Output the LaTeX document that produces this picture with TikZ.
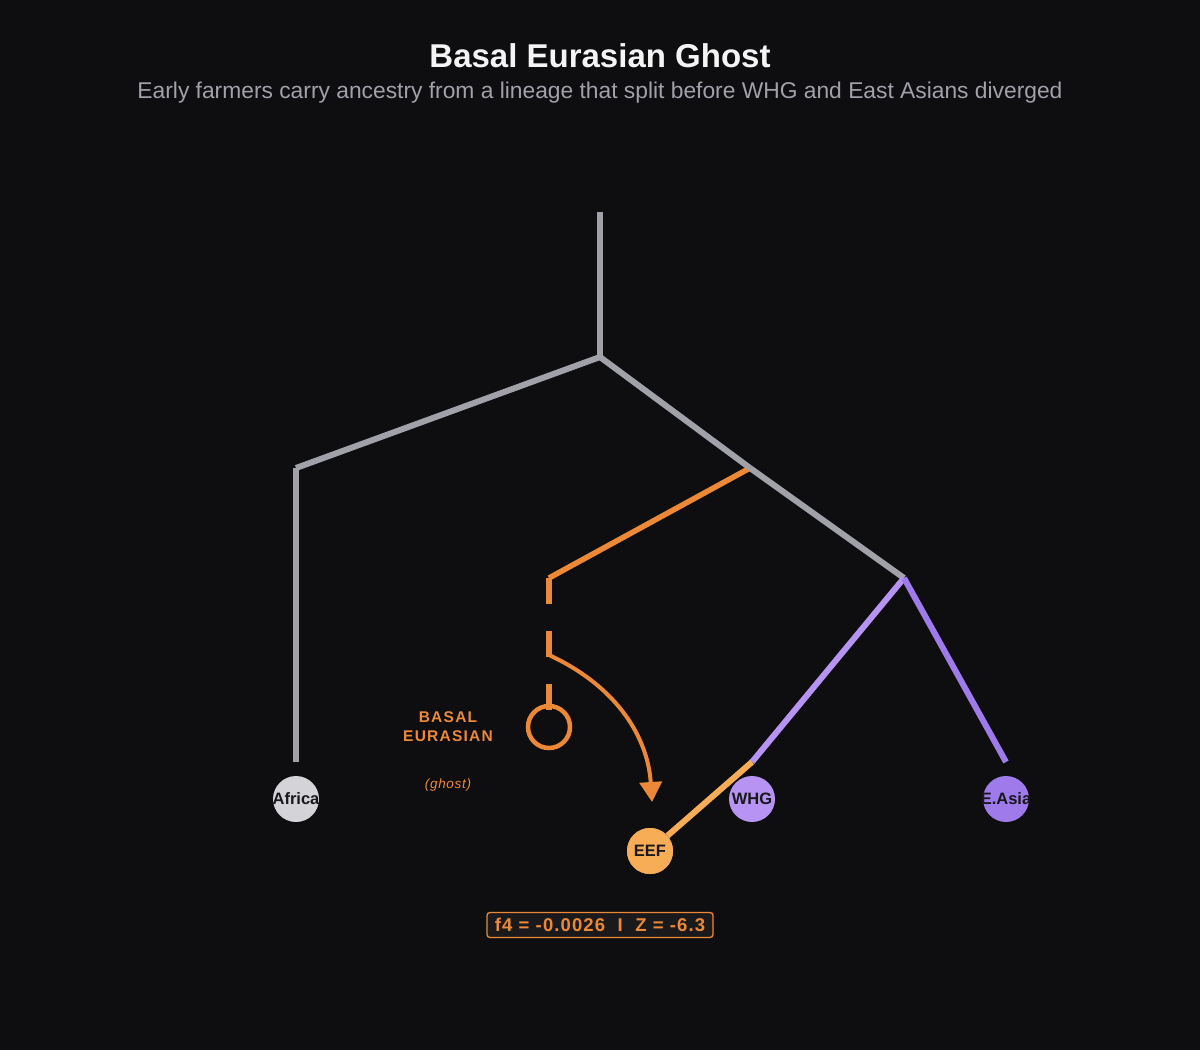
\documentclass[tikz,border=0pt]{standalone}
\usepackage{fontspec}
\setmainfont{Liberation Sans}
\newfontfamily\spacedfont[LetterSpace=8]{Liberation Sans}
\newfontfamily\ghostfont[LetterSpace=5]{Liberation Sans}
\newfontfamily\boxfont[LetterSpace=6]{Liberation Sans}
\usetikzlibrary{arrows.meta}
\definecolor{bg}{HTML}{0E0E10}
\definecolor{treegray}{HTML}{A1A1AA}
\definecolor{afrfill}{HTML}{D4D4D8}
\definecolor{whgfill}{HTML}{B794F4}
\definecolor{easfill}{HTML}{9F7AEA}
\definecolor{eeffill}{HTML}{F6AD55}
\definecolor{ghostor}{HTML}{ED8936}
\definecolor{titlecol}{HTML}{F4F4F5}
\definecolor{nodetext}{HTML}{18181B}
\definecolor{boxfill}{HTML}{1A1A1D}
\newcommand{\poplabel}[1]{\makebox[0pt][c]{#1}}
\tikzset{
  branch/.style={line width=6pt, line cap=butt},
  ghostline/.style={line width=5.5pt, ghostor},
  pop/.style={circle, minimum size=46pt, inner sep=0pt, text=nodetext, font=\fontsize{16.5}{19}\selectfont\bfseries},
}
\begin{document}
\begin{tikzpicture}[x=1pt,y=-1pt]
\fill[bg] (0,0) rectangle (1200,1050);
\useasboundingbox (0,0) rectangle (1200,1050);

% titles
\node[text=titlecol, font=\fontsize{33}{38}\selectfont\bfseries] (title) at (600,56) {Basal Eurasian Ghost};
\node[text=treegray, font=\fontsize{22.8}{26}\selectfont] (subtitle) at (600,93) {Early farmers carry ancestry from a lineage that split before WHG and East Asians diverged};

% junction coordinates
\coordinate (top) at (600,212);
\coordinate (root) at (600,357);
\coordinate (afrcorner) at (296,468);
\coordinate (afrend) at (296,762);
\coordinate (n1) at (750,468);
\coordinate (n2) at (904,578);
\coordinate (gcorner) at (549,578);
\coordinate (gend) at (549,712);
\coordinate (arrstart) at (549,655);
\coordinate (arrend) at (652,802);
\coordinate (whgtop) at (752,762);
\coordinate (eastop) at (1006,762);

% ghost lineage (under the tree)
\draw[ghostline] (n1) -- (gcorner);
\draw[ghostline, dash pattern=on 26pt off 27pt] (gcorner) -- (gend);

% tree
\draw[branch, treegray] (top) -- (root);
\draw[branch, treegray] (afrcorner) -- (afrend);
\draw[branch, treegray] (root) -- (afrcorner);
\draw[branch, treegray] (root) -- (n1);
\draw[branch, treegray] (n1) -- (n2);
\draw[branch, whgfill] (n2) -- (whgtop);
\draw[branch, easfill] (n2) -- (eastop);

\node[circle, draw=ghostor, line width=4.5pt, minimum size=42pt, inner sep=0pt] (ghostcirc) at (549,727) {};
\draw[line width=4pt, ghostor, -{Triangle[length=20pt,width=22pt]}] (arrstart) .. controls (620,688) and (648,740) .. (arrend);

\node[text=ghostor, font=\spacedfont\fontsize{15.5}{19}\selectfont\bfseries, align=center] (ghostlbl) at (448,727) {BASAL\\EURASIAN};
\node[text=ghostor, font=\ghostfont\fontsize{13.5}{16}\selectfont\itshape] (ghostsub) at (448,785) {(ghost)};

% populations
\node[pop, fill=eeffill] (eef) at (650,851) {\poplabel{EEF}};
\draw[branch, eeffill] (whgtop) -- (eef);
\node[pop, fill=eeffill] at (eef) {\poplabel{EEF}};
\node[pop, fill=afrfill] (africa) at (296,799) {\poplabel{Africa}};
\node[pop, fill=whgfill] (whg) at (752,799) {\poplabel{WHG}};
\node[pop, fill=easfill] (easia) at (1006,799) {\poplabel{E.Asia}};

% statistic box
\node[draw=ghostor, fill=boxfill, line width=1.3pt, rounded corners=3pt, minimum width=226pt, minimum height=25pt, inner sep=0pt, text=ghostor, font=\boxfont\fontsize{18.5}{20}\selectfont\bfseries] (stat) at (600,925) {f4 = -0.0026 \ I \ Z = -6.3};
\end{tikzpicture}
\end{document}
